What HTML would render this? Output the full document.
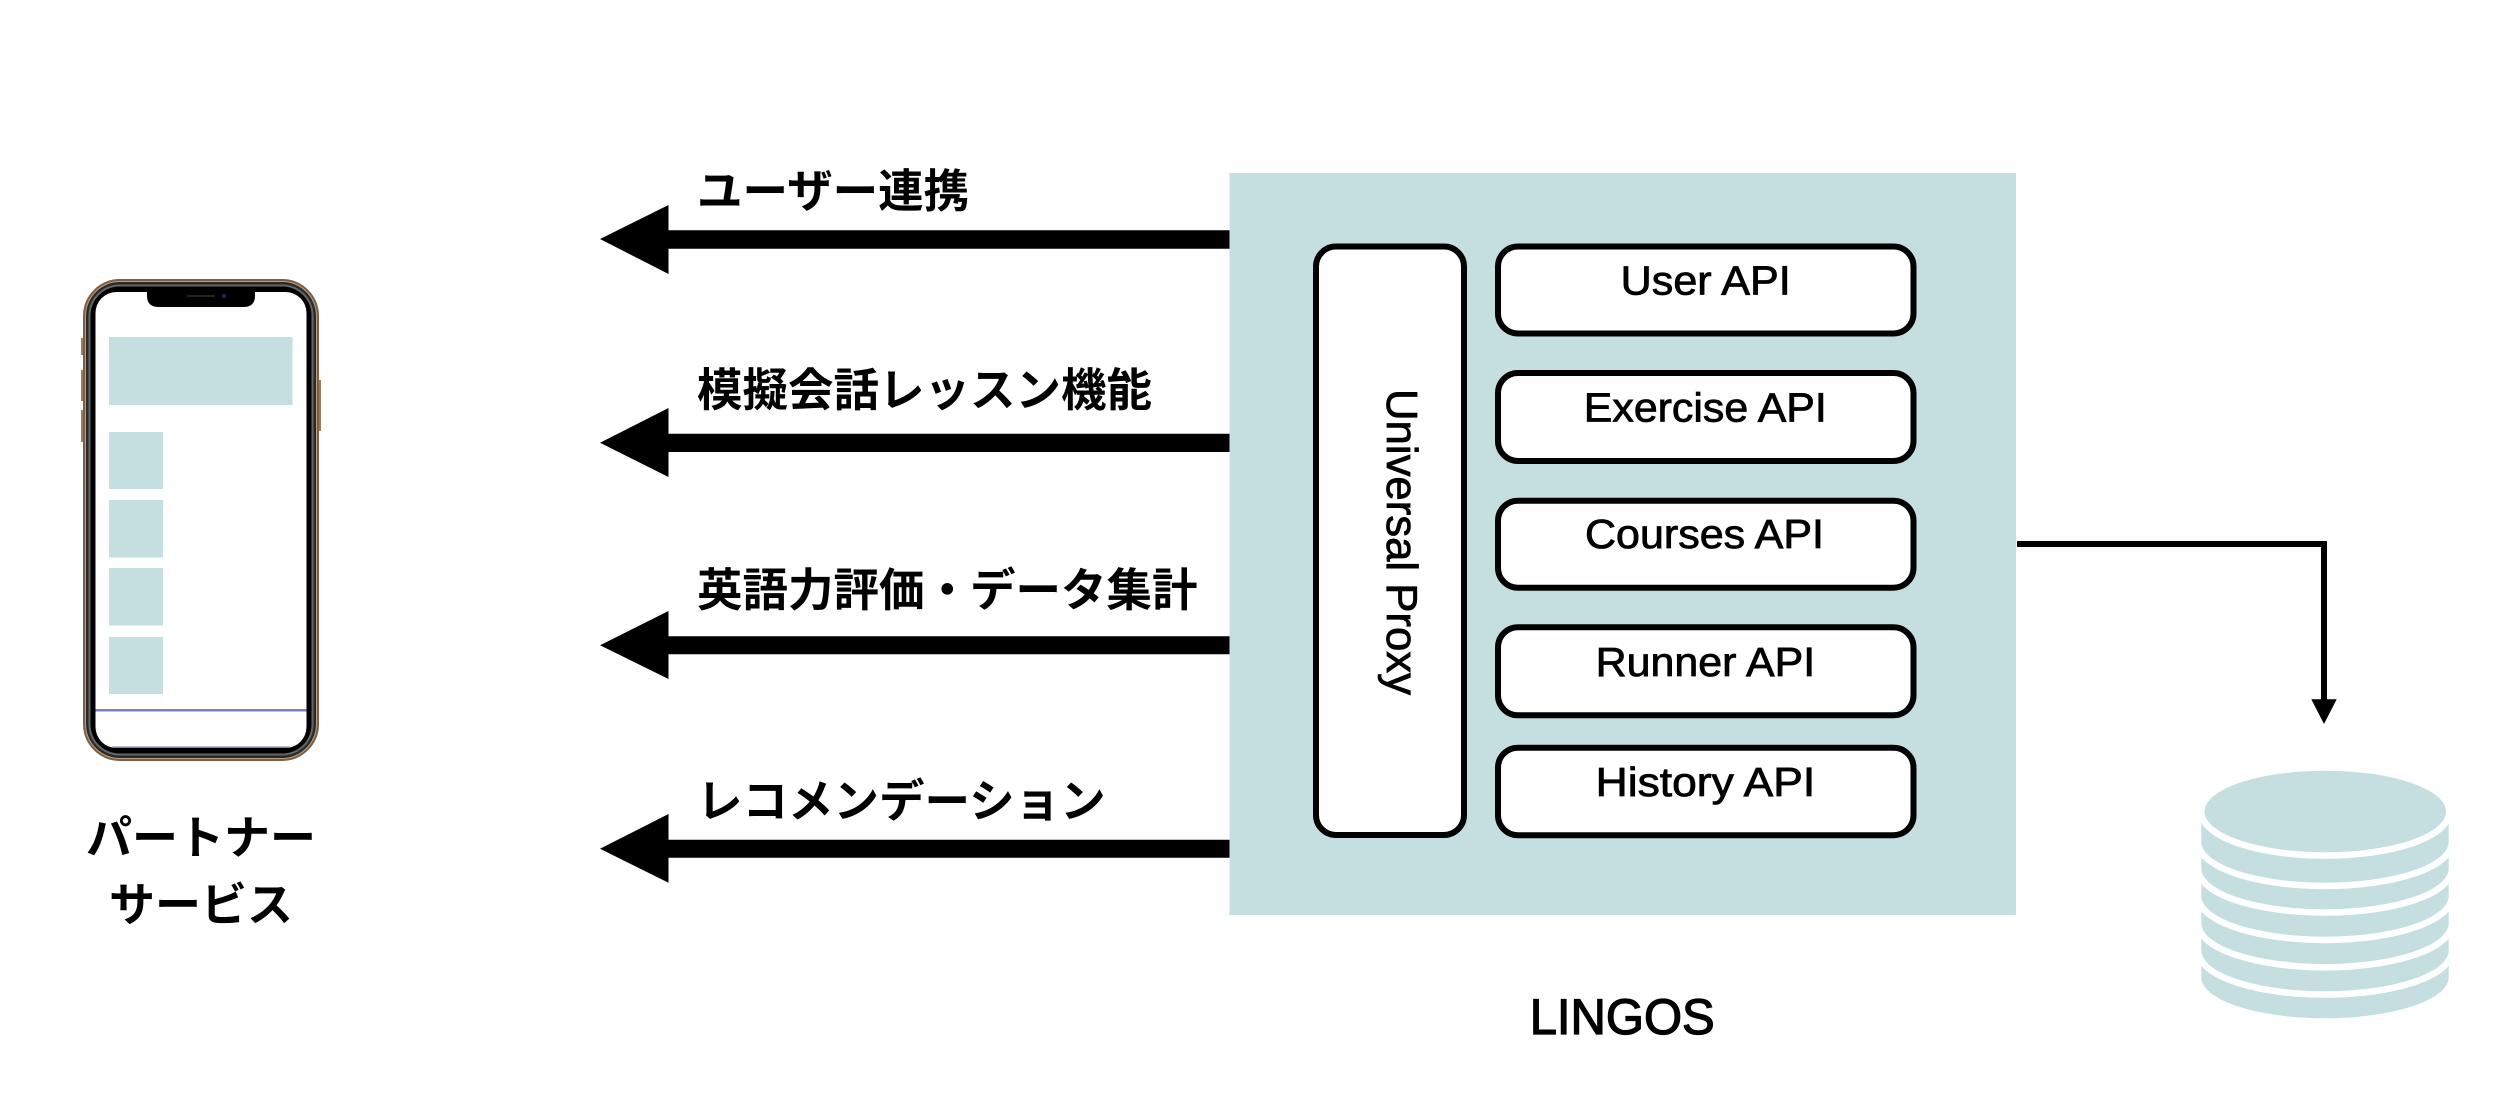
<!DOCTYPE html>
<html lang="ja">
<head>
<meta charset="utf-8">
<title>LINGOS diagram</title>
<style>
html,body{margin:0;padding:0;background:#fff;width:2500px;height:1118px;overflow:hidden}
svg{display:block}
.jp{font-family:"Liberation Sans","Noto Sans CJK JP",sans-serif;font-weight:700;font-size:45.500px;fill:#000}
.en{font-family:"Liberation Sans",sans-serif;font-size:41px;fill:#000;stroke:#000;stroke-width:.8}
.box{fill:#fff;stroke:#000;stroke-width:6}
.t{fill:#c5dfe0}
</style>
</head>
<body>
<svg width="2500" height="1118" viewBox="0 0 2500 1118" xmlns="http://www.w3.org/2000/svg">
<rect width="2500" height="1118" fill="#fff"/>

<!-- Phone -->
<rect x="81" y="338" width="4" height="17" fill="#9a7a60"/>
<rect x="81" y="370" width="4" height="31" fill="#9a7a60"/>
<rect x="81" y="410" width="4" height="32" fill="#9a7a60"/>
<rect x="317" y="380" width="4" height="51" fill="#9a7a60"/>
<rect x="84" y="280" width="234" height="480" rx="36" fill="#b89c84" stroke="#7d5f48" stroke-width="2"/>
<rect x="86" y="282" width="230" height="476" rx="34" fill="#2a2a2a"/>
<rect x="88.500" y="284.500" width="225" height="471" rx="31" fill="#666"/>
<rect x="90.500" y="286.500" width="221" height="467" rx="29" fill="#000"/>
<rect x="95.500" y="292" width="211" height="456" rx="21" fill="#fff"/>
<path d="M147 292H255V296Q255 307 243 307H159Q147 307 147 296Z" fill="#000"/>
<rect x="187" y="295" width="28" height="2" fill="#222"/>
<circle cx="224" cy="296" r="2" fill="#1c2a50"/>
<rect class="t" x="109" y="337" width="183.5" height="68"/>
<rect class="t" x="109" y="432" width="54" height="57"/>
<rect class="t" x="109" y="500" width="54" height="57.500"/>
<rect class="t" x="109" y="568" width="54" height="57.500"/>
<rect class="t" x="109" y="637" width="54" height="57"/>
<rect x="95.500" y="709" width="211" height="2.500" fill="#7a80b5"/>
<rect x="112" y="746.500" width="178" height="1.500" fill="#7a80b5"/>

<text class="jp" x="201" y="854" text-anchor="middle" style="font-size:46px">パートナー</text>
<text class="jp" x="201" y="921" text-anchor="middle" style="font-size:46px">サービス</text>

<!-- Big arrows -->
<path d="M600 239L668.500 205V230.300H1230V248.700H668.500V274Z" fill="#000"/>
<path d="M600 442.700L668.500 408V433.700H1230V452H668.500V477Z" fill="#000"/>
<path d="M600 645.300L668.500 611V636.300H1230V654.300H668.500V679Z" fill="#000"/>
<path d="M600 848.700L668.500 814V839.700H1230V857.700H668.500V882.700Z" fill="#000"/>

<text class="jp" x="697" y="207">ユーザー連携</text>
<text class="jp" x="697" y="406">模擬会話レッスン機能</text>
<text class="jp" x="697" y="606">英語力評価・データ集計</text>
<text class="jp" x="697" y="817">レコメンデーション</text>

<!-- LINGOS panel -->
<rect class="t" x="1229.500" y="173" width="786.500" height="742"/>
<rect class="box" x="1316" y="246.500" width="148" height="588.500" rx="20"/>
<rect class="box" x="1498" y="246.500" width="415.500" height="87" rx="20"/>
<rect class="box" x="1498" y="373" width="415.500" height="88" rx="20"/>
<rect class="box" x="1498" y="500.700" width="415.500" height="87" rx="20"/>
<rect class="box" x="1498" y="627.300" width="415.500" height="88" rx="20"/>
<rect class="box" x="1498" y="747.700" width="415.500" height="87.500" rx="20"/>

<text class="en" x="1620.700" y="294.300" textLength="170" lengthAdjust="spacingAndGlyphs">User API</text>
<text class="en" x="1583.800" y="421.700" textLength="243" lengthAdjust="spacingAndGlyphs">Exercise API</text>
<text class="en" x="1585" y="548" textLength="239" lengthAdjust="spacingAndGlyphs">Courses API</text>
<text class="en" x="1595.700" y="676" textLength="219.500" lengthAdjust="spacingAndGlyphs">Runner API</text>
<text class="en" x="1595.700" y="796" textLength="219.500" lengthAdjust="spacingAndGlyphs">History API</text>
<text class="en" transform="translate(1387 389) rotate(90)" x="0" y="0" textLength="306" lengthAdjust="spacingAndGlyphs" style="font-size:44px">Universal Proxy</text>
<text class="en" x="1529.700" y="1034" textLength="185" lengthAdjust="spacingAndGlyphs" style="font-size:50px;stroke-width:1.300">LINGOS</text>

<!-- Connector -->
<path d="M2017 544H2324V702" fill="none" stroke="#000" stroke-width="6"/>
<path d="M2311.300 699.300H2336.700L2324 724Z" fill="#000"/>

<!-- Cylinder -->
<g fill="#c5dfe0" stroke="#fff" stroke-width="13" paint-order="stroke">
<path d="M2201.300 950.300H2448.700V977.300A123.700 41 0 0 1 2201.300 977.300Z"/>
<path d="M2201.300 923H2448.700V950.300A123.700 41 0 0 1 2201.300 950.300Z"/>
<path d="M2201.300 895.700H2448.700V923A123.700 41 0 0 1 2201.300 923Z"/>
<path d="M2201.300 868.300H2448.700V895.700A123.700 41 0 0 1 2201.300 895.700Z"/>
<path d="M2201.300 841.700H2448.700V868.300A123.700 41 0 0 1 2201.300 868.300Z"/>
<path d="M2201.300 811.500H2448.700V841.700A123.700 41 0 0 1 2201.300 841.700Z"/>
<ellipse cx="2325.300" cy="811.500" rx="120.700" ry="40.800"/>
</g>
</svg>
</body>
</html>
